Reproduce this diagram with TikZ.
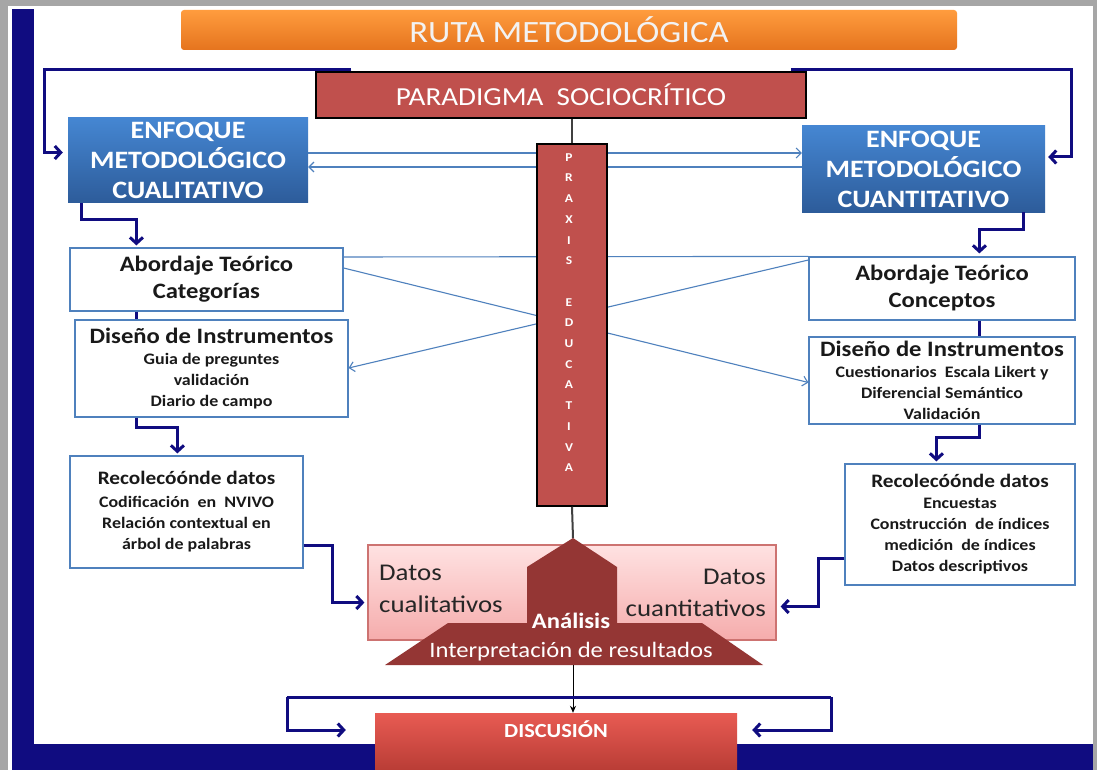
\documentclass[tikz,border=0pt]{standalone}
\usepackage{fontspec}
\setmainfont{Carlito}[FakeStretch=1.12]
\usetikzlibrary{calc,arrows.meta,positioning}

\definecolor{rutanavy}{RGB}{16,12,128}
\definecolor{rutared}{HTML}{C0504D}
\definecolor{rutadark}{HTML}{943634}
\definecolor{rutalink}{HTML}{4F81BD}
\definecolor{rutaorangetop}{HTML}{FF9C3E}
\definecolor{rutaorangebot}{HTML}{E5741E}
\definecolor{rutabluetop}{HTML}{4586D2}
\definecolor{rutabluebot}{HTML}{2D5C9A}
\definecolor{rutapinktop}{HTML}{FFE2E2}
\definecolor{rutapinkbot}{HTML}{F5ACAC}
\definecolor{rutadisctop}{HTML}{E85B53}
\definecolor{rutadiscbot}{HTML}{B53A33}

\def\headfont{\fontsize{22}{27}\selectfont\bfseries}
\def\itemfont{\fontsize{16}{21}\selectfont\bfseries}

\tikzset{
  titlebox/.style={rounded corners=3pt, top color=rutaorangetop, bottom color=rutaorangebot,
    text=white!95!black, font=\fontsize{31}{34}\selectfont, minimum width=776pt, minimum height=40pt, inner sep=0pt},
  redbox/.style={draw=black, line width=1.5pt, fill=rutared, text=white, inner sep=0pt},
  enfbox/.style={top color=rutabluetop, bottom color=rutabluebot, text=white, align=center,
    font=\fontsize{25}{30}\selectfont\bfseries, inner sep=0pt},
  stepbox/.style={draw=rutalink, line width=1.2pt, fill=white, align=center, inner sep=0pt,
    text=black!90},
  navyline/.style={draw=rutanavy, line width=3pt},
  navyarrow/.style={navyline, -{Straight Barb[length=6pt,width=13pt]}},
  bluelink/.style={draw=rutalink, line width=1.1pt},
  bluearrow/.style={bluelink, -{Straight Barb[length=5pt,width=10pt]}},
  praxline/.style={draw=black!75, line width=2pt},
  datostext/.style={text=black!85, font=\fontsize{24}{32}\selectfont, inner sep=0pt},
}

\begin{document}
\begin{tikzpicture}[x=1pt, y=-1pt]
  \useasboundingbox (0,0) rectangle (1097,770);

  % frame
  \fill[black!35] (0,0) rectangle (1097,770);
  \fill[white] (8,6) rectangle (1093,770);
  \fill[rutanavy] (12,9) rectangle (34,770);
  \fill[rutanavy] (12,744) rectangle (1093,770);

  \node[titlebox] (title) at (569,30) {RUTA METODOLÓGICA};
  \node[redbox, minimum width=490pt, minimum height=46pt, font=\fontsize{26}{30}\selectfont]
    (paradigma) at (561,95) {PARADIGMA\ \ SOCIOCRÍTICO};

  \node[enfbox, minimum width=240pt, minimum height=85pt] (enfqual) at (188,160.5)
    {ENFOQUE\\METODOLÓGICO\\CUALITATIVO};
  \node[enfbox, minimum width=243pt, minimum height=86pt] (enfquan) at (923.5,169)
    {ENFOQUE\\METODOLÓGICO\\CUANTITATIVO};

  % left column
  \node[stepbox, minimum width=273pt, minimum height=63pt, font=\fontsize{22}{27}\selectfont\bfseries]
    (abqual) at (206.5,279.5) {Abordaje Teórico\\Categorías};
  \node[stepbox, minimum width=273pt, minimum height=97pt, font=\itemfont]
    (disqual) at (211.5,368.5) {{\headfont Diseño de Instrumentos}\\Guia de preguntes\\validación\\Diario de campo};
  \node[stepbox, minimum width=233pt, minimum height=112pt, font=\itemfont]
    (recqual) at (186.5,512) {{\fontsize{19}{24}\selectfont Recolecóónde datos}\\[2pt]Codificación\ \ en\ \ NVIVO\\Relación contextual en\\árbol de palabras};

  % right column
  \node[stepbox, minimum width=266pt, minimum height=63pt, font=\fontsize{22}{27}\selectfont\bfseries]
    (abquan) at (942,288.5) {Abordaje Teórico\\Conceptos};
  \node[stepbox, minimum width=266pt, minimum height=87pt, font=\itemfont]
    (disquan) at (942,380.5) {{\headfont Diseño de Instrumentos}\\Cuestionarios\ \ Escala Likert y\\Diferencial Semántico\\Validación};
  \node[stepbox, minimum width=230pt, minimum height=121pt, font=\itemfont]
    (recquan) at (960,524.5) {{\fontsize{19}{24}\selectfont Recolecóónde datos}\\Encuestas\\Construcción\ \ de índices\\medición\ \ de índices\\Datos descriptivos};

  % thin links behind the praxis column
  \draw[bluearrow] ($(enfqual.east)+(0,-7.5)$) -- ($(enfquan.west)+(0,-16)$);
  \draw[bluearrow] ($(enfquan.west)+(0,-2)$) -- ($(enfqual.east)+(0,6.5)$);
  \draw[bluelink] ($(abqual.east)+(0,-22.5)$) -- (abquan.north west);
  \draw[bluearrow] ($(abqual.east)+(0,-11.5)$) -- ($(disquan.west)+(0,2)$);
  \draw[bluearrow] ($(abquan.west)+(0,-28.5)$) -- ($(disqual.east)+(0,-0.5)$);

  \node[redbox, minimum width=70pt, minimum height=362pt] (praxis) at (572,325) {};
  \node[anchor=north, align=center, text=white, inner sep=0pt, font=\fontsize{12}{20.7}\selectfont\bfseries]
    (praxtxt) at ($(praxis.north)+(-3,10)$) {P\\R\\A\\X\\I\\S\\[20.7pt]E\\D\\U\\C\\A\\T\\I\\V\\A};
  \draw[praxline] (praxis.north) -- (praxis.north |- paradigma.south);

  % datos and analysis
  \node[draw=rutared!80!white, line width=1.2pt, top color=rutapinktop, bottom color=rutapinkbot,
    minimum width=408pt, minimum height=95pt, inner sep=0pt] (datos) at (572,592.5) {};
  \node[datostext, anchor=west, align=left] (dqual) at (379,589) {Datos\\cualitativos};
  \node[datostext, anchor=east, align=right] (dquan) at (766,593) {Datos\\cuantitativos};

  \coordinate (anpeak) at (573,538);
  \coordinate (anbase) at (573,665);
  \fill[rutadark] (385,665) -- (448,623) -- (527,623) -- (527,567) -- (anpeak)
    -- (617,567) -- (617,623) -- (702,623) -- (763,665) -- cycle;
  \node[align=center, text=white, inner sep=0pt, font=\fontsize{22}{29}\selectfont]
    (analisis) at (571,637) {{\bfseries Análisis}\\Interpretación de resultados};
  \draw[praxline] (praxis.south) -- (anpeak);

  \node[top color=rutadisctop, bottom color=rutadiscbot, minimum width=362pt, minimum height=62pt,
    inner sep=0pt] (discusion) at (556,744) {};
  \node[below=8pt of discusion.north, text=white, inner sep=0pt, font=\fontsize{20}{24}\selectfont\bfseries]
    (disctxt) {DISCUSIÓN};
  \draw[line width=1pt, -{Stealth[length=7pt,width=6pt]}] (anbase) -- (anbase |- discusion.north);

  % navy connectors
  \draw[navyarrow, shorten >=5pt] ($(paradigma.north west)+(36,-2)$) -| ($(enfqual.west)+(-23,-8)$)
    -- ($(enfqual.west)+(0,-8)$);
  \draw[navyarrow, shorten >=3pt] ($(paradigma.north east)+(-16,-2)$) -| ($(enfquan.east)+(26,-12)$)
    -- ($(enfquan.east)+(0,-12)$);
  \draw[navyarrow, shorten >=2pt] ($(enfqual.south west)+(14,0)$) |- ($(abqual.north west)+(67,-28)$)
    -- ($(abqual.north west)+(67,0)$);
  \draw[navyline] ($(abqual.south west)+(67,0)$) -- ($(disqual.north west)+(62,0)$);
  \draw[navyarrow, shorten >=2pt] ($(disqual.south west)+(62,0)$) |- ($(recqual.north west)+(108,-28)$)
    -- ($(recqual.north west)+(108,0)$);
  \draw[navyarrow, shorten >=3pt] ($(recqual.east)+(0,33)$) -| ($(datos.west)+(-35,10)$)
    -- ($(datos.west)+(0,10)$);
  \draw[navyarrow, shorten >=3pt] ($(enfquan.south east)+(-22,0)$) |- ($(abquan.north west)+(171,-27)$)
    -- ($(abquan.north west)+(171,0)$);
  \draw[navyline] ($(abquan.south west)+(171,0)$) -- ($(disquan.north west)+(171,0)$);
  \draw[navyarrow, shorten >=2pt] ($(disquan.south west)+(171,0)$) |- ($(recquan.north west)+(92,-26)$)
    -- ($(recquan.north west)+(92,0)$);
  \draw[navyarrow, shorten >=4pt] ($(recquan.west)+(0,33.5)$) -| ($(datos.east)+(42,14)$)
    -- ($(datos.east)+(0,14)$);

  \coordinate (discl) at (287,697);
  \coordinate (discr) at (831,697);
  \draw[navyline] (discl) -- (discr);
  \draw[navyarrow, shorten >=29pt] (discl) |- ($(discusion.west)+(0,-14)$);
  \draw[navyarrow, shorten >=15pt] (discr) |- ($(discusion.east)+(0,-14)$);
\end{tikzpicture}
\end{document}
